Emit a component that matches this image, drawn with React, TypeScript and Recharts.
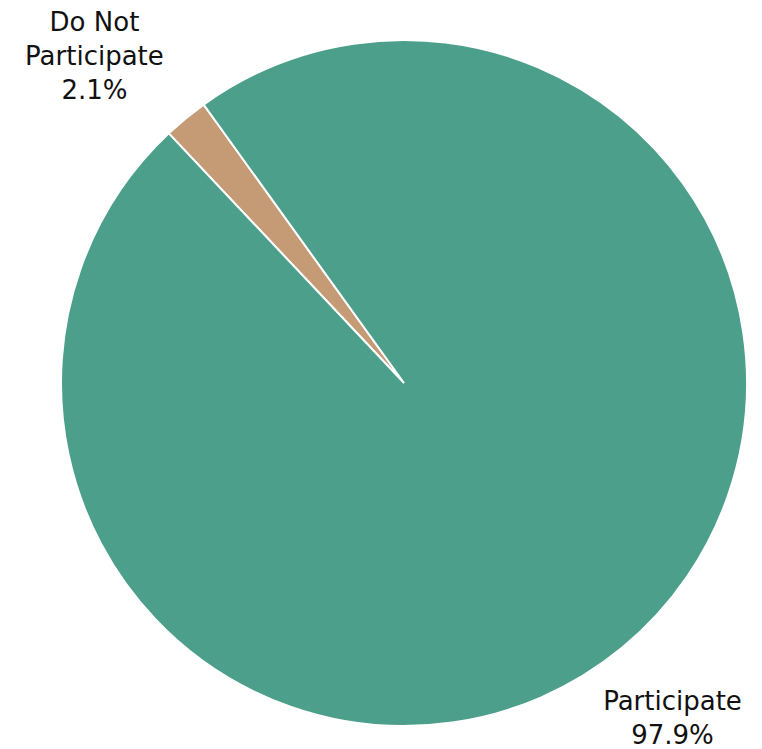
import { PieChart, Pie, Cell } from 'recharts'

const NAMES = ['Do Not Participate', 'Participate']
const LABEL_LINES = [['Do Not', 'Participate'], ['Participate']]
const VALUES = [2.1, 97.9]
const COLORS = ['#c49b75', '#4c9f8a']

const data = NAMES.map((name, i) => ({ name, value: VALUES[i] }))

const RAD = Math.PI / 180
const LINE_H = 34
// small hand tweaks so the labels sit where the original put them
const NUDGE = [
  { dx: -34, dy: 7 },
  { dx: -7, dy: 1 },
]

function renderLabel(props: any) {
  const { cx, cy, midAngle, outerRadius, index, value } = props
  const r = outerRadius + 90
  const x = cx + r * Math.cos(-midAngle * RAD) + NUDGE[index].dx
  const y = cy + r * Math.sin(-midAngle * RAD) + NUDGE[index].dy
  const lines = [...LABEL_LINES[index], `${value.toFixed(1)}%`]
  const first = y - ((lines.length - 1) * LINE_H) / 2 + 9
  return (
    <text
      x={x}
      y={first}
      textAnchor="middle"
      fill="#111"
      fontSize={26}
      fontFamily="'DejaVu Sans', sans-serif"
    >
      {lines.map((l, k) => (
        <tspan key={k} x={x} y={first + k * LINE_H}>{l}</tspan>
      ))}
    </text>
  )
}

export default function App() {
  return (
    <div style={{ position: 'absolute', left: 0, top: 0, background: '#fff' }}>
      <PieChart width={762} height={749} margin={{ top: 0, right: 0, bottom: 0, left: 0 }}>
        <Pie
          data={data}
          dataKey="value"
          nameKey="name"
          cx={404}
          cy={383}
          outerRadius={343}
          startAngle={133.3}
          endAngle={-226.7}
          stroke="#fff"
          strokeWidth={2}
          label={renderLabel}
          labelLine={false}
          isAnimationActive={false}
        >
          {data.map((d, i) => (
            <Cell key={d.name} fill={COLORS[i]} />
          ))}
        </Pie>
      </PieChart>
    </div>
  )
}
